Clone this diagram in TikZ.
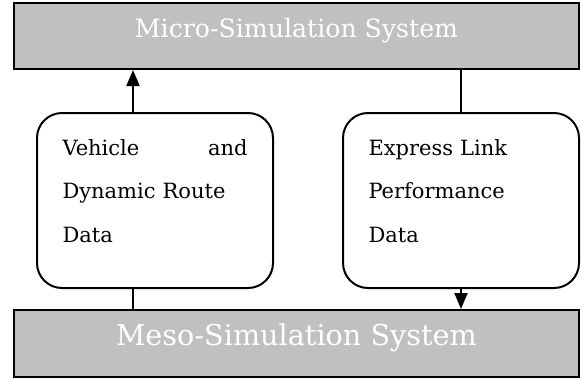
\documentclass[tikz,border=0pt]{standalone}
\usepackage{fontspec}
\setmainfont{DejaVu Serif}
\usetikzlibrary{arrows.meta}
\definecolor{simgray}{RGB}{192,192,192}
\begin{document}
\begin{tikzpicture}[x=1pt,y=1pt,
				sysbox/.style={draw=black,line width=2pt,fill=simgray,text=white,minimum width=565pt,inner sep=0pt},
				databox/.style={draw=black,line width=2pt,rounded corners=25pt,minimum width=236pt,minimum height=175pt,inner sep=0pt,text width=185pt,align=left,font=\fontsize{21}{43.5}\selectfont,text height=16pt,text depth=107pt},
				link/.style={line width=2pt},
				flowtip/.style={-{Triangle[width=13pt,length=16pt]}}]
				\useasboundingbox (0,0) rectangle (583,-378);
				\node [sysbox,minimum height=66pt,font=\fontsize{25.2}{30}\selectfont,text height=18.5pt,text depth=15.5pt] (micro) at (296.5,-36) {Micro-Simulation System};
				\node [sysbox,minimum height=67pt,font=\fontsize{28.7}{34}\selectfont,text height=21pt,text depth=18pt] (meso) at (296.5,-343.5) {Meso-Simulation System};
				\node [databox] (vehroute) at (155,-200.5) {Vehicle\hfill and\\Dynamic Route\\Data};
				\node [databox] (express) at (461,-200.5) {Express Link\\Performance\\Data};
				\coordinate (vehup) at ([xshift=-22pt]vehroute.north);
				\coordinate (vehdown) at ([xshift=-22pt]vehroute.south);
				\draw [link,flowtip] (vehup) -- (vehup |- micro.south);
				\draw [link] (vehdown) -- (vehdown |- meso.north);
				\draw [link] (micro.south -| express.north) -- (express.north);
				\draw [link,flowtip] (express.south) -- (express.south |- meso.north);
\end{tikzpicture}
\end{document}
